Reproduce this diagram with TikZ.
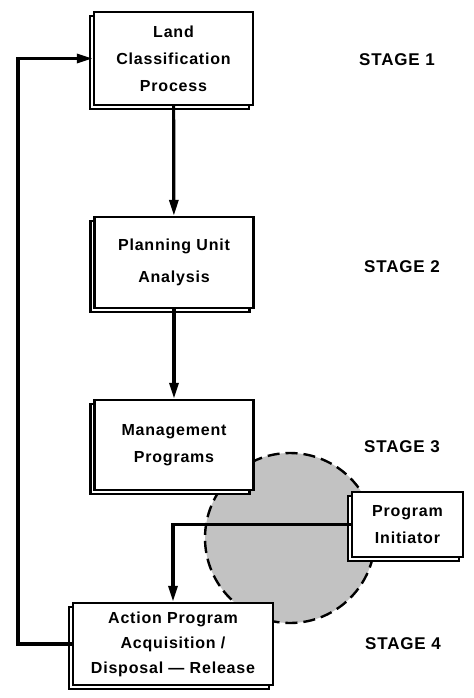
\documentclass[tikz,border=0pt]{standalone}
\usepackage{fontspec}
\setmainfont{Liberation Sans}[LetterSpace=5]
\usetikzlibrary{positioning, arrows.meta, shadows}
\definecolor{stipple}{HTML}{C2C2C2}

\begin{document}
\begin{tikzpicture}[x=0.5pt, y=-0.5pt, line width=1.2pt,
    stagebox/.style={draw, fill=white, align=center, inner sep=0pt,
      font=\bfseries\fontsize{8}{13.5}\selectfont,
      copy shadow={shadow xshift=-2pt, shadow yshift=-2pt}},
    stagelabel/.style={font=\bfseries\fontsize{8.5}{10}\selectfont},
    arr/.style={line width=1.6pt, -{Triangle[length=8pt,width=4.5pt]}}]
  \useasboundingbox (0,0) rectangle (474,698);
  % shaded area behind the boxes
  \filldraw[fill=stipple, draw=black, line width=1.2pt, dash pattern=on 6pt off 3pt]
    (290,538) circle[radius=42.5pt];
  % stage boxes
  \node[stagebox, minimum width=79.5pt, minimum height=46.5pt] (land) at (173.5,58.5)
    {Land\\Classification\\Process};
  \node[stagebox, minimum width=79.5pt, minimum height=45.5pt,
    font=\bfseries\fontsize{8}{16}\selectfont] (plan) at (174,262.5)
    {Planning Unit\\Analysis};
  \node[stagebox, minimum width=79.5pt, minimum height=45pt] (mgmt) at (174,445)
    {Management\\Programs};
  \node[stagebox, minimum width=100pt, minimum height=41pt,
    font=\bfseries\fontsize{8}{12.5}\selectfont] (action) at (173,644)
    {Action Program\\Acquisition /\\Disposal --- Release};
  \node[stagebox, minimum width=55.5pt, minimum height=32.5pt] (init) at (407.5,524.5)
    {Program\\Initiator};
  % stage labels
  \node[stagelabel] (s1) at (397,60) {STAGE 1};
  \node[stagelabel] (s2) at (402,267) {STAGE 2};
  \node[stagelabel] (s3) at (402,447) {STAGE 3};
  \node[stagelabel] (s4) at (403,644) {STAGE 4};
  % connectors
  \draw[arr] (land) -- (plan);
  \draw[arr] (plan) -- (mgmt);
  \draw[arr] (init.west) -| (action.north);
  \coordinate (back) at (18,644);
  \draw[arr] (action.west) -- (back) |- (land.west);
\end{tikzpicture}
\end{document}
